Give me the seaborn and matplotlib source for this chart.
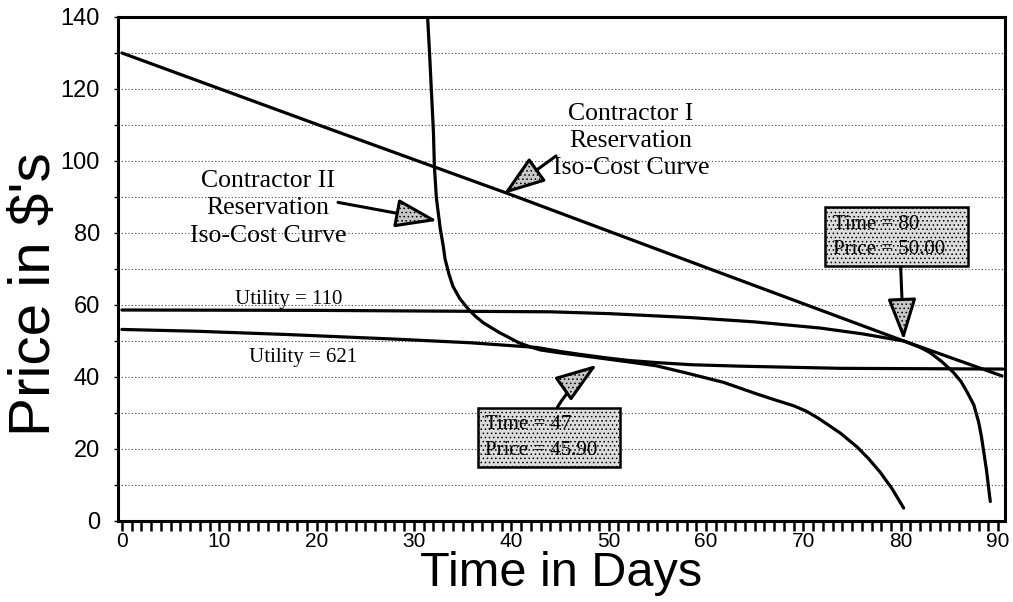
import matplotlib
matplotlib.use("Agg")
import matplotlib.pyplot as plt
import seaborn as sns
from matplotlib.ticker import MultipleLocator

# curves (days, price in $)
contractor1_days = [0, 20, 40, 60, 80, 90.4]
contractor1_price = [130, 110.2, 90.6, 70.4, 50.3, 40.3]

contractor2_days = [31.4, 31.6, 31.8, 32.0, 32.1, 32.3, 32.5, 32.7, 33.0, 33.2,
                    33.6, 34.0, 34.7, 35.6, 36.3, 37.1, 38.0, 38.8, 39.8, 40.7,
                    42.0, 43.0, 45.0, 47.0, 49.8, 52.0, 54.9, 58.0, 61.8, 65.2,
                    67.0, 69.0, 70.3, 71.5, 72.6, 73.8, 75.5, 76.7, 77.9, 79.1,
                    80.3]
contractor2_price = [140, 130, 119, 108, 98.4, 89.8, 85.5, 81.2, 76.5, 72.7,
                     68.5, 65.2, 61.8, 58.8, 56.9, 55.1, 53.6, 52.3, 50.9, 49.6,
                     48.3, 47.5, 46.7, 46.0, 45.0, 44.2, 43.1, 41.1, 38.5, 35.3,
                     33.7, 32.0, 30.5, 28.6, 26.6, 24.4, 20.6, 17.3, 13.5, 9.0,
                     3.6]

utility110_days = [0, 20, 44, 50, 58.4, 65, 71.7, 76, 80.3, 82.0, 83.0, 84.2,
                   85.4, 86.2, 86.8, 87.5, 88.0, 88.3, 88.8, 89.2]
utility110_price = [58.6, 58.5, 58.1, 57.6, 56.5, 55.3, 53.6, 52.0, 50.0, 48.2,
                    46.8, 44.3, 41.3, 38.7, 35.9, 32.3, 27.5, 23.3, 14.3, 5.4]

utility621_days = [0, 7.7, 16.9, 28.2, 35.8, 42.6, 45.0, 47.0, 49.8, 52.0, 54.9,
                   58.5, 63.5, 73.8, 90.5]
utility621_price = [53.2, 52.7, 51.8, 50.5, 49.5, 48.2, 47.1, 46.3, 45.3, 44.6,
                    44.0, 43.4, 43.0, 42.4, 42.2]

x_ticks = [0, 10, 20, 30, 40, 50, 60, 70, 80, 90]
y_ticks = [0, 20, 40, 60, 80, 100, 120, 140]

sns.set_style("white")
plt.rcParams["font.family"] = ["Liberation Sans", "DejaVu Sans"]
plt.rcParams["hatch.linewidth"] = 0.6
for key in ["text.color", "axes.labelcolor", "xtick.color", "ytick.color"]:
    plt.rcParams[key] = "black"

SERIF = ["Liberation Serif", "DejaVu Serif"]

fig = plt.figure(figsize=(10.13, 6.02), dpi=100)
ax = fig.add_axes([0.1165, 0.1346, 0.8755, 0.8372])

for days, price in [
    (contractor1_days, contractor1_price),
    (contractor2_days, contractor2_price),
    (utility110_days, utility110_price),
    (utility621_days, utility621_price),
]:
    sns.lineplot(x=days, y=price, ax=ax, color="black", lw=2.3,
                 sort=False, estimator=None)

ax.set_xlim(-0.4, 90.7)
ax.set_ylim(0, 140)
ax.set_xticks(x_ticks)
ax.set_yticks(y_ticks)
ax.xaxis.set_minor_locator(MultipleLocator(1))
ax.yaxis.set_minor_locator(MultipleLocator(10))
ax.tick_params(axis="x", which="both", direction="out", length=7, width=1.8,
               labelsize=15, pad=1, bottom=True)
ax.tick_params(axis="y", which="both", direction="out", length=3, width=1,
               labelsize=17, pad=10, left=True)
ax.yaxis.grid(True, which="both", color="#444444", lw=0.8, ls=(0, (1, 2)))
ax.xaxis.grid(False)
for sp in ax.spines.values():
    sp.set_linewidth(2.2)
    sp.set_color("black")

ax.set_xlabel("Time in Days", fontsize=35, labelpad=0)
ax.set_ylabel("Price in \\$'s", fontsize=42)
ax.yaxis.set_label_coords(-0.063, 0.45)

arrow_kw = dict(arrowstyle="-|>,head_length=2.6,head_width=0.9", mutation_scale=10,
                fc="#c8c8c8", ec="black", lw=2.2, hatch="....",
                shrinkA=0, shrinkB=0)

ax.text(52.3, 105.6, "Contractor I\nReservation\nIso-Cost Curve", family=SERIF,
        fontsize=18.5, ha="center", va="center", linespacing=1.3)
ax.annotate("", xy=(39.2, 90.8), xytext=(44.6, 101.4), arrowprops=arrow_kw)

ax.text(15.0, 86.8, "Contractor II\nReservation\nIso-Cost Curve", family=SERIF,
        fontsize=18.5, ha="center", va="center", linespacing=1.3)
ax.annotate("", xy=(32.4, 83.4), xytext=(22.2, 88.5), arrowprops=arrow_kw)

ax.text(17.1, 61.6, "Utility = 110", family=SERIF, fontsize=15,
        ha="center", va="center")
ax.text(18.6, 45.3, "Utility = 621", family=SERIF, fontsize=15,
        ha="center", va="center")

box_kw = dict(boxstyle="square,pad=0.35", fc="#dcdcdc", ec="black", lw=1.8,
              hatch="....")

ax.annotate("Time = 80\nPrice = 50.00   ", xy=(80.3, 50.2), xytext=(73.0, 78.9),
            family=SERIF, fontsize=15, ha="left", va="center", bbox=box_kw,
            linespacing=1.45,
            arrowprops=dict(arrow_kw, relpos=(0.53, 0)))

ax.annotate("Time = 47\nPrice = 45.90   ", xy=(48.8, 43.4), xytext=(37.3, 23.2),
            family=SERIF, fontsize=15, ha="left", va="center", bbox=box_kw,
            linespacing=1.45,
            arrowprops=dict(arrow_kw, relpos=(0.53, 1),
                            connectionstyle="arc3,rad=-0.12"))

fig.savefig("out.png", dpi=100)
